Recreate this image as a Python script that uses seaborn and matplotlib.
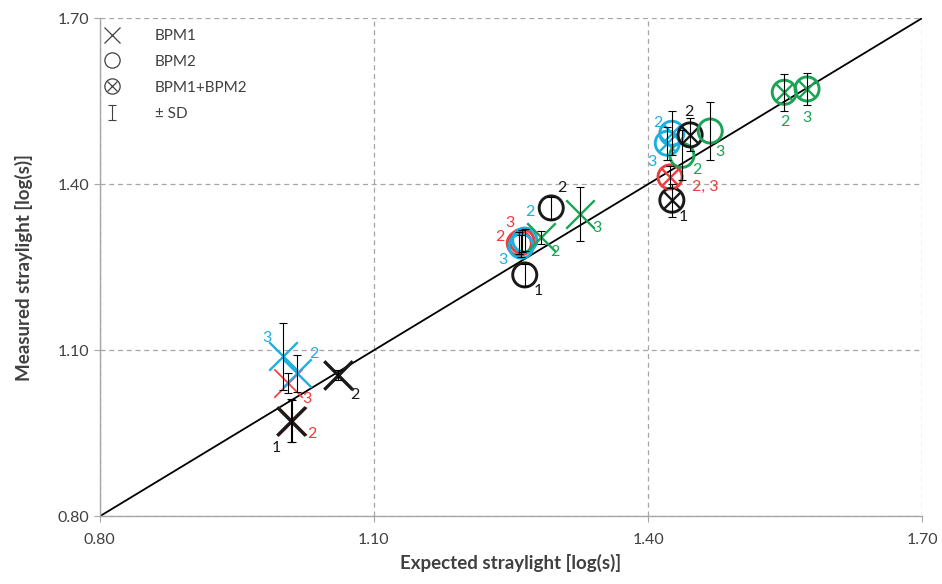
import numpy as np
import pandas as pd
import matplotlib
matplotlib.use('Agg')
import matplotlib.pyplot as plt
import seaborn as sns
from matplotlib.lines import Line2D
from matplotlib.legend_handler import HandlerTuple

# Données
method = ['BPM1', 'BPM1', 'BPM1', 'BPM1', 'BPM1', 'BPM1',
          'BPM2', 'BPM2', 'BPM2', 'BPM2', 'BPM2', 'BPM2',
          'BPM1', 'BPM1',
          'BOTH', 'BOTH', 'BPM2', 'BOTH', 'BOTH', 'BOTH', 'BPM2',
          'BOTH', 'BOTH']
group = ['red', 'black', 'red', 'cyan', 'cyan', 'black',
         'black', 'black', 'red', 'red', 'cyan', 'cyan',
         'green', 'green',
         'black', 'red', 'green', 'cyan', 'cyan', 'black', 'green',
         'green', 'green']
tag = ['2', '1', '3', '3', '2', '2',
       '1', '2', '2', '3', '2', '3',
       '2', '3',
       '1', '2, 3', '2', '2', '3', '2', '3',
       '2', '3']
expected = [1.010, 1.009, 1.006, 1.000, 1.016, 1.061,
            1.265, 1.294, 1.259, 1.262, 1.265, 1.261,
            1.283, 1.326,
            1.426, 1.424, 1.437, 1.426, 1.421, 1.446, 1.468,
            1.549, 1.574]
measured = [0.972, 0.973, 1.040, 1.089, 1.058, 1.055,
            1.236, 1.357, 1.293, 1.297, 1.299, 1.288,
            1.304, 1.346,
            1.371, 1.413, 1.452, 1.492, 1.474, 1.489, 1.496,
            1.566, 1.572]
sd = [0.038, 0.038, 0.018, 0.060, 0.033, 0.009,
      0.020, 0.020, 0.020, 0.020, 0.020, 0.020,
      0.012, 0.048,
      0.030, 0.020, 0.045, 0.040, 0.030, 0.030, 0.052,
      0.033, 0.029]

# Décalage des étiquettes (pixels)
label_offsets = [(20, -13), (-15, -27), (19, -16), (-16, 18), (17, 19), (17, -20),
                 (14, -16), (11, 20), (-19, 6), (-12, 18), (5, 28), (-18, -14),
                 (14, -15), (16, -14),
                 (11, -17), (35, -10), (15, -15), (-14, 10), (-15, -19), (-1, 23), (10, -21),
                 (1, -30), (0, -29)]

COLORS = {'black': '#1a1a1a', 'red': '#ee3b3b', 'cyan': '#1ab0e0', 'green': '#1ba356'}
GRID = '#a6a6a6'
TEXT = '#404040'

df = pd.DataFrame({'method': method, 'group': group, 'tag': tag,
                   'expected': expected, 'measured': measured, 'sd': sd})

sns.set_theme(style='white')
plt.rcParams['font.family'] = ['Lato', 'DejaVu Sans']

fig = plt.figure(figsize=(9.42, 5.84), dpi=100)
ax = fig.add_axes([0.106, 0.116, 0.873, 0.853])

# Droite y = x
diag = pd.DataFrame({'x': [0.80, 1.70], 'y': [0.80, 1.70]})
sns.lineplot(data=diag, x='x', y='y', color='black', lw=1.3, ax=ax, zorder=2)

for i, row in df.iterrows():
    c = COLORS[row['group']]
    if row['method'] == 'BPM1':
        lw = 2.4 if row['group'] == 'black' else 1.7
        if row['group'] == 'red' and row['tag'] == '3':
            lw = 1.2
        z = 4 if row['group'] == 'black' else 3
        ax.scatter(row['expected'], row['measured'], marker='x', s=420,
                   color=c, linewidths=lw, zorder=z)
    else:
        ax.scatter(row['expected'], row['measured'], marker='o', s=300,
                   facecolors='none', edgecolors=c, linewidths=2.1, zorder=3)
        if row['method'] == 'BOTH':
            ax.scatter(row['expected'], row['measured'], marker='x', s=150,
                       color=c, linewidths=1.7, zorder=3)
    ax.errorbar(row['expected'], row['measured'], yerr=row['sd'], fmt='none',
                ecolor='black', elinewidth=0.8, capsize=2.8, capthick=0.8, zorder=5)
    dx, dy = label_offsets[i]
    ax.annotate(row['tag'], (row['expected'], row['measured']), xytext=(dx, dy),
                textcoords='offset pixels', ha='center', va='center',
                fontsize=11.5, color=c, zorder=6)

ax.set_xlim(0.80, 1.70)
ax.set_ylim(0.80, 1.70)
ticks = [0.80, 1.10, 1.40, 1.70]
ax.set_xticks(ticks)
ax.set_yticks(ticks)
ax.set_xticklabels([f'{t:.2f}' for t in ticks])
ax.set_yticklabels([f'{t:.2f}' for t in ticks])
ax.tick_params(axis='both', labelsize=11.5, colors=TEXT, length=4, width=0.8,
               direction='out', bottom=True, left=True, color=GRID)
ax.tick_params(axis='x', pad=8)

ax.grid(True, color=GRID, linestyle=(0, (4, 3)), linewidth=0.9)
for side in ['top', 'right']:
    ax.spines[side].set_visible(False)
for side in ['left', 'bottom']:
    ax.spines[side].set_color(GRID)
    ax.spines[side].set_linewidth(1.0)

ax.set_xlabel('Expected straylight [log(s)]', fontsize=13.5, fontweight='bold',
              color=TEXT, labelpad=5)
ax.set_ylabel('Measured straylight [log(s)]', fontsize=13.5, fontweight='bold',
              color=TEXT, labelpad=18)

# Légende
h_x = Line2D([], [], marker='x', ls='none', color='#404040', ms=11, mew=0.9)
h_o = Line2D([], [], marker='o', ls='none', mfc='none', mec='#404040', ms=11, mew=0.9)
h_x_small = Line2D([], [], marker='x', ls='none', color='#404040', ms=6.5, mew=0.9)
h_err = ax.errorbar([np.nan], [np.nan], yerr=[np.nan], fmt='none', ecolor='#404040',
                    elinewidth=0.8, capsize=3, capthick=0.8)
leg = ax.legend([h_x, h_o, (h_o, h_x_small), h_err],
                ['BPM1', 'BPM2', 'BPM1+BPM2', '± SD'],
                handler_map={tuple: HandlerTuple(ndivide=1, pad=0)},
                loc='upper left', bbox_to_anchor=(-0.017, 1.006), frameon=False,
                fontsize=11, handlelength=1.6, handletextpad=2.0, labelspacing=0.78,
                borderpad=0.6, borderaxespad=0.3)
for t in leg.get_texts():
    t.set_color(TEXT)

fig.savefig('out.png', dpi=100)
